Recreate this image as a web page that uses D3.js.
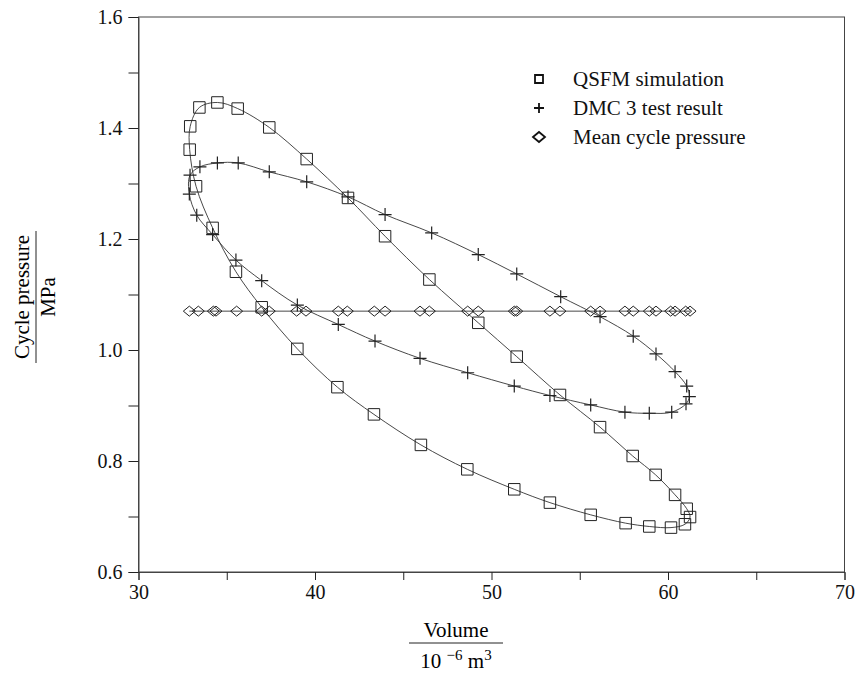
<!DOCTYPE html>
<html>
<head>
<meta charset="utf-8">
<script src="https://cdn.jsdelivr.net/npm/d3@7"></script>
<style>
  body { margin: 0; background: #fff; }
  svg { display: block; font-family: "Liberation Serif", "DejaVu Serif", serif; }
</style>
</head>
<body>
<div class="graph"></div>
<script>
// QSFM simulation (volume 10^-6 m3, pressure MPa), going round the loop
const qsfmVolume = [32.90, 32.93, 33.45, 34.47, 35.62, 37.41, 39.53, 41.87, 43.97, 46.48, 49.25, 51.43, 53.88, 56.15, 58.00, 59.30, 60.40, 61.06, 61.25, 60.96, 60.17, 58.94, 57.60, 55.62, 53.31, 51.29, 48.63, 46.00, 43.34, 41.27, 39.00, 36.98, 35.52, 34.20, 33.26];
const qsfmPressure = [1.361, 1.403, 1.437, 1.446, 1.435, 1.401, 1.344, 1.274, 1.205, 1.127, 1.049, 0.988, 0.919, 0.861, 0.809, 0.775, 0.739, 0.714, 0.699, 0.686, 0.680, 0.682, 0.688, 0.703, 0.725, 0.749, 0.785, 0.829, 0.884, 0.933, 1.002, 1.077, 1.141, 1.220, 1.295];

// DMC 3 test result
const dmcVolume = [32.92, 33.48, 34.47, 35.65, 37.41, 39.53, 41.87, 43.97, 46.61, 49.25, 51.43, 53.92, 56.15, 58.03, 59.32, 60.40, 61.06, 61.21, 61.02, 60.21, 58.94, 57.56, 55.62, 53.31, 51.29, 48.65, 45.95, 43.40, 41.32, 39.00, 36.98, 35.52, 34.20, 33.30, 32.88];
const dmcPressure = [1.315, 1.330, 1.337, 1.337, 1.321, 1.303, 1.276, 1.244, 1.211, 1.172, 1.137, 1.096, 1.060, 1.025, 0.993, 0.961, 0.935, 0.916, 0.903, 0.888, 0.886, 0.888, 0.901, 0.918, 0.935, 0.959, 0.985, 1.016, 1.046, 1.081, 1.125, 1.162, 1.208, 1.243, 1.281];

// mean cycle pressure
const meanVolume = [32.88, 33.39, 34.24, 34.39, 35.56, 36.98, 37.41, 38.96, 39.49, 41.32, 41.83, 43.36, 43.97, 45.95, 46.48, 48.65, 49.25, 51.29, 51.43, 53.31, 53.88, 55.62, 56.15, 57.56, 58.03, 58.94, 59.32, 60.15, 60.40, 61.00, 61.25];
const meanPressure = 1.070;

const xTicks = [30, 40, 50, 60, 70];
const yTicks = [0.6, 0.8, 1.0, 1.2, 1.4, 1.6];
const legendLabels = ["QSFM simulation", "DMC 3 test result", "Mean cycle pressure"];

const width = 858, height = 674;
const ink = "#222";

const svg = d3.select(".graph").append("svg")
    .attr("width", width)
    .attr("height", height);

const x = d3.scaleLinear().domain([30, 70]).range([138.5, 844.5]);
const y = d3.scaleLinear().domain([0.6, 1.6]).range([572, 17]);

// cadre
svg.append("rect")
    .attr("x", x(30)).attr("y", y(1.6))
    .attr("width", x(70) - x(30)).attr("height", y(0.6) - y(1.6))
    .attr("fill", "none").attr("stroke", "#444").attr("stroke-width", 1);

// axes
const xAxis = d3.axisBottom(x).tickValues(d3.range(30, 71, 5)).tickSize(8)
    .tickFormat(d => xTicks.includes(d) ? d : "");
const yAxis = d3.axisLeft(y).tickValues(d3.range(0.6, 1.61, 0.1)).tickSize(10)
    .tickFormat(d => yTicks.some(t => Math.abs(t - d) < 1e-6) ? d.toFixed(1) : "");

const gx = svg.append("g").attr("transform", `translate(0,${y(0.6)})`).call(xAxis);
const gy = svg.append("g").attr("transform", `translate(${x(30)},0)`).call(yAxis);
[gx, gy].forEach(g => {
    g.select(".domain").attr("stroke", "#444");
    g.selectAll(".tick line").attr("stroke", ink);
    g.selectAll("text").attr("fill", "#111").style("font-family", "Liberation Serif").style("font-size", "20px");
});
gx.selectAll("text").attr("dy", "0").attr("y", 27);
gy.selectAll("text").attr("x", -16);

// courbes
const line = d3.line().x(d => x(d[0])).y(d => y(d[1])).curve(d3.curveCatmullRomClosed.alpha(0.5));
const qsfm = qsfmVolume.map((v, i) => [v, qsfmPressure[i]]);
const dmc = dmcVolume.map((v, i) => [v, dmcPressure[i]]);

svg.append("path").attr("d", line(qsfm)).attr("fill", "none").attr("stroke", "#333").attr("stroke-width", 0.9);
svg.append("path").attr("d", line(dmc)).attr("fill", "none").attr("stroke", "#333").attr("stroke-width", 0.9);
svg.append("line")
    .attr("x1", x(d3.min(meanVolume))).attr("x2", x(d3.max(meanVolume)))
    .attr("y1", y(meanPressure)).attr("y2", y(meanPressure))
    .attr("stroke", "#333").attr("stroke-width", 0.9);

// marqueurs
const square = d3.symbol().type(d3.symbolSquare).size(132);
const cross = "M-6.5,0H6.5M0,-6.5V6.5";
const diamond = "M-6,0L0,-5L6,0L0,5Z";

svg.append("g").selectAll("path").data(meanVolume).join("path")
    .attr("transform", d => `translate(${x(d)},${y(meanPressure)})`)
    .attr("d", diamond).attr("fill", "none").attr("stroke", ink).attr("stroke-width", 1);
svg.append("g").selectAll("path").data(qsfm).join("path")
    .attr("transform", d => `translate(${x(d[0])},${y(d[1])})`)
    .attr("d", square).attr("fill", "none").attr("stroke", ink).attr("stroke-width", 1);
svg.append("g").selectAll("path").data(dmc).join("path")
    .attr("transform", d => `translate(${x(d[0])},${y(d[1])})`)
    .attr("d", cross).attr("fill", "none").attr("stroke", ink).attr("stroke-width", 1.2);

// légende
const legend = svg.append("g").attr("transform", "translate(539,79)");
const shapes = [d3.symbol().type(d3.symbolSquare).size(64)(), "M-5,0H5M0,-5V5", "M-6,0L0,-5L6,0L0,5Z"];
legendLabels.forEach((lab, i) => {
    const row = legend.append("g").attr("transform", `translate(0,${i * 29})`);
    row.append("path").attr("d", shapes[i]).attr("fill", "none").attr("stroke", "#111").attr("stroke-width", 1.8);
    row.append("text").attr("x", 34).attr("y", 7).text(lab)
        .style("font-size", "21px").attr("fill", "#111");
});

// titres des axes
const xt = svg.append("g").attr("transform", "translate(456,0)");
xt.append("text").attr("y", 637).attr("text-anchor", "middle").style("font-size", "21px").text("Volume");
xt.append("line").attr("x1", -47).attr("x2", 47).attr("y1", 643).attr("y2", 643).attr("stroke", ink);
const xt2 = xt.append("text").attr("y", 668).attr("text-anchor", "middle").style("font-size", "21px");
xt2.append("tspan").text("10 ");
xt2.append("tspan").attr("dy", -8).style("font-size", "15px").text("\u22126");
xt2.append("tspan").attr("dy", 8).text(" m");
xt2.append("tspan").attr("dy", -8).style("font-size", "15px").text("3");

const yt = svg.append("g").attr("transform", "translate(0,297) rotate(-90)");
yt.append("text").attr("y", 29).attr("text-anchor", "middle").style("font-size", "21px").text("Cycle pressure");
yt.append("line").attr("x1", -66).attr("x2", 66).attr("y1", 36).attr("y2", 36).attr("stroke", ink);
yt.append("text").attr("y", 55).attr("text-anchor", "middle").style("font-size", "21px").text("MPa");
</script>
</body>
</html>
